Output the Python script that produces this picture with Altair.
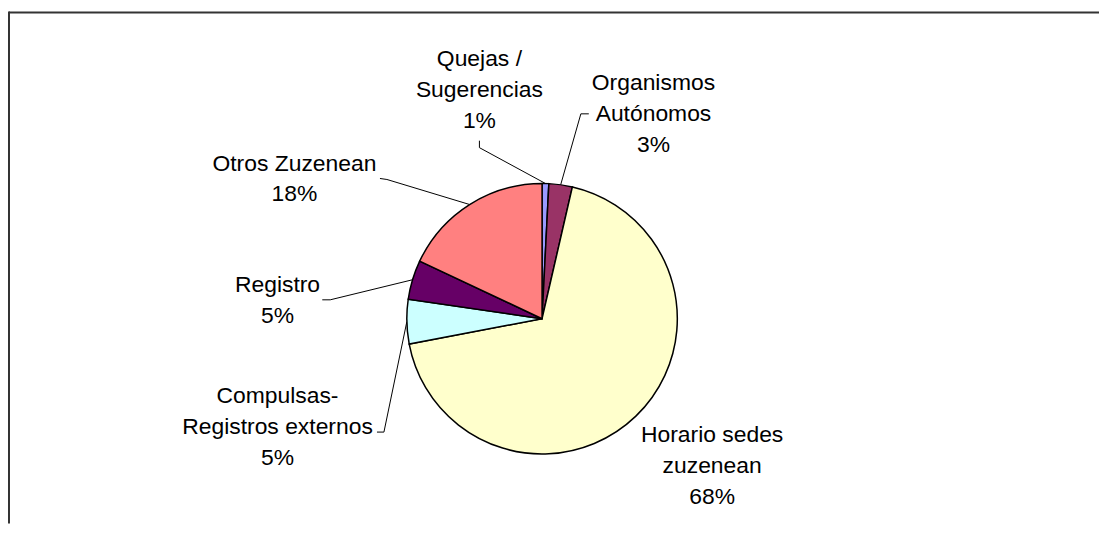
import altair as alt
import pandas as pd
import numpy as np

# ---- data ----
categories = ["Quejas / Sugerencias", "Organismos Autónomos", "Horario sedes zuzenean",
              "Compulsas-Registros externos", "Registro", "Otros Zuzenean"]
values = [0.8, 2.8, 68.4, 5.3, 4.7, 18.0]
label_names = ["Quejas /\nSugerencias", "Organismos\nAutónomos", "Horario sedes\nzuzenean",
               "Compulsas-\nRegistros externos", "Registro", "Otros Zuzenean"]
colors = ["#9999FF", "#993366", "#FFFFCC", "#CCFFFF", "#660066", "#FF8080"]

# ---- layout (pixels, relative to pie centre, y down; label y = first line) ----
label_dx = [-63, 112, 171, -266, -266, -249]
label_dy = [-261, -237, 117, 78, -34, -156]
has_leader = [True, True, False, True, True, True]
stub_sx = [-63, 47, 0, -166, -221, -163]
stub_sy = [-179, -206, 0, 114, -19, -141]
stub_ex = [-63, 39, 0, -159, -213, -156]
stub_ey = [-172, -206, 0, 114, -19, -140]

R = 136
PAD_L, PAD_T = 4, 4
W, H = 1093, 513
CX, CY = 533, 307  # pie centre in plot pixels

xs = alt.Scale(domain=[-CX, W - CX], nice=False, zero=False)
ys = alt.Scale(domain=[-CY, H - CY], nice=False, zero=False, reverse=True)

total = sum(values)
cum = np.cumsum([0] + values[:-1])
mid = [(c + v / 2) / total * 2 * np.pi for c, v in zip(cum, values)]

df = pd.DataFrame({
    "cat": categories,
    "value": values,
    "idx": list(range(len(values))),
    "cx": 0, "cy": 0,
    "label": [f"{n}\n{round(v / total * 100)}%" for n, v in zip(label_names, values)],
    "lx": label_dx, "ly": label_dy,
    "rimx": [R * np.sin(a) for a in mid],
    "rimy": [-R * np.cos(a) for a in mid],
    "sx": stub_sx, "sy": stub_sy, "ex": stub_ex, "ey": stub_ey,
    "lead": has_leader,
})

base = alt.Chart(df)

pie = base.mark_arc(outerRadius=R, stroke="black", strokeWidth=1.5).encode(
    theta=alt.Theta("value:Q", stack=True),
    order=alt.Order("idx:Q"),
    color=alt.Color("cat:N", scale=alt.Scale(domain=categories, range=colors), legend=None),
    x=alt.X("cx:Q", scale=xs, axis=None),
    y=alt.Y("cy:Q", scale=ys, axis=None),
)

leaders = base.transform_filter("datum.lead").mark_rule(color="black", strokeWidth=1).encode(
    x=alt.X("ex:Q", scale=xs, axis=None), y=alt.Y("ey:Q", scale=ys, axis=None),
    x2="rimx:Q", y2="rimy:Q",
)
stubs = base.transform_filter("datum.lead").mark_rule(color="black", strokeWidth=1).encode(
    x=alt.X("sx:Q", scale=xs, axis=None), y=alt.Y("sy:Q", scale=ys, axis=None),
    x2="ex:Q", y2="ey:Q",
)

texts = base.mark_text(font="Liberation Sans", fontSize=23, lineBreak="\n", lineHeight=31,
                       align="center", baseline="middle", color="black").encode(
    x=alt.X("lx:Q", scale=xs, axis=None), y=alt.Y("ly:Q", scale=ys, axis=None),
    text="label:N",
)

frame_df = alt.Chart(pd.DataFrame({"a": [0]}))
top_line = frame_df.mark_rule(color="#333333", strokeWidth=2).encode(
    x=alt.value(-3), x2=alt.value(W), y=alt.value(-1), y2=alt.value(-1))
left_line = frame_df.mark_rule(color="#333333", strokeWidth=2).encode(
    x=alt.value(-3), x2=alt.value(-3), y=alt.value(-2), y2=alt.value(H))

chart = alt.layer(top_line, left_line, leaders, stubs, pie, texts).properties(
    width=W, height=H,
    autosize=alt.AutoSizeParams(type="none"),
    padding={"left": PAD_L, "top": PAD_T, "right": 0, "bottom": 0},
).configure_view(strokeWidth=0)

chart.save("out.html", embed_options={"renderer": "svg", "actions": False})
